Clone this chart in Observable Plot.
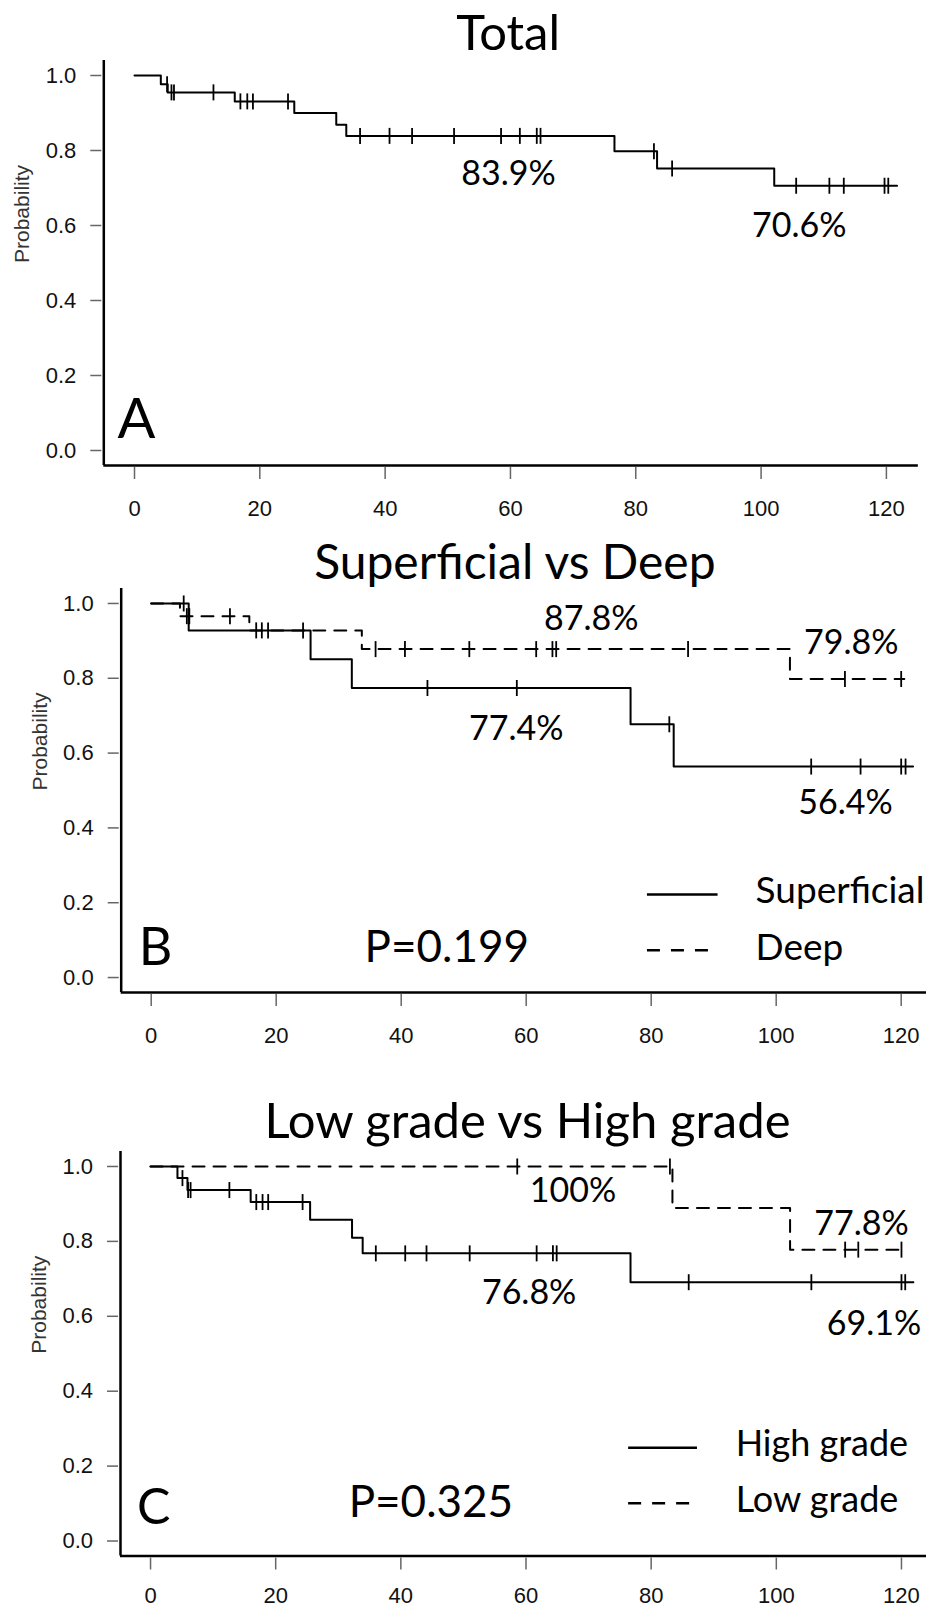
<!DOCTYPE html>
<html>
<head>
<meta charset="utf-8">
<script src="https://cdn.jsdelivr.net/npm/d3@7"></script>
<script src="https://cdn.jsdelivr.net/npm/@observablehq/plot@0.6"></script>
<style>
  html, body { margin: 0; padding: 0; background: #fff; overflow: hidden; }
  #chart svg { display: block; }
</style>
</head>
<body>
<div id="chart"></div>
<script>
// ---------------- data ----------------
const monthTicks = [0, 20, 40, 60, 80, 100, 120];
const probTicks = [0, 0.2, 0.4, 0.6, 0.8, 1.0];

// Panel A – Total
const totalEventTimes = [0, 4.2, 5.3, 16.0, 25.5, 32.2, 33.8, 76.6, 83.4, 102.1];
const totalSurvival   = [1, 0.977, 0.955, 0.931, 0.900, 0.869, 0.839, 0.798, 0.752, 0.706];
const totalEnd = 121.7;
const totalCensored = [5.2, 5.9, 6.3, 12.6, 16.9, 18.0, 18.9, 24.5, 36.0, 40.7, 44.3, 51.0, 58.5, 61.5, 64.2, 64.8, 82.9, 85.8, 105.6, 110.9, 113.2, 119.7, 120.3];
const totalLabels = ["83.9%", "70.6%"];

// Panel B – Superficial vs Deep
const superficialTimes    = [0, 6.0, 25.5, 32.1, 76.7, 83.6];
const superficialSurvival = [1, 0.928, 0.851, 0.774, 0.677, 0.564];
const superficialEnd = 121.9;
const superficialCensored = [5.2, 16.8, 17.7, 18.7, 24.3, 44.2, 58.5, 82.9, 105.6, 113.5, 120.0, 120.7];
const deepTimes    = [0, 4.6, 15.7, 33.7, 102.2];
const deepSurvival = [1, 0.966, 0.928, 0.878, 0.798];
const deepEnd = 120.5;
const deepCensored = [5.7, 6.1, 12.6, 35.9, 40.6, 50.9, 61.6, 64.2, 64.8, 85.9, 111.0, 120.0];
const depthLabels = ["87.8%", "79.8%", "77.4%", "56.4%"];
const depthLegend = ["Superficial", "Deep"];
const depthP = "P=0.199";

// Panel C – Low grade vs High grade
const highTimes    = [0, 4.3, 5.9, 16.0, 25.5, 32.2, 33.9, 76.7];
const highSurvival = [1, 0.969, 0.937, 0.905, 0.858, 0.810, 0.768, 0.691];
const highEnd = 121.9;
const highCensored = [5.1, 6.0, 6.4, 12.6, 16.9, 17.9, 18.8, 24.3, 36.0, 40.7, 44.1, 51.0, 61.7, 64.3, 64.9, 86.0, 105.6, 120.0, 120.6];
const lowTimes    = [0, 83.4, 102.2];
const lowSurvival = [1, 0.889, 0.778];
const lowEnd = 120.5;
const lowCensored = [58.6, 83.0, 111.0, 113.1, 120.0];
const gradeLabels = ["100%", "77.8%", "76.8%", "69.1%"];
const gradeLegend = ["High grade", "Low grade"];
const gradeP = "P=0.325";

// ---------------- helpers ----------------
const BIG = "Lato, 'Open Sans', sans-serif";
const SMALL = "'Liberation Sans', Arial, Helvetica, sans-serif";
const DASH = "12,9";

function steps(times, surv, end) {
  const pts = times.map((t, i) => ({t, s: surv[i]}));
  pts.push({t: end, s: surv[surv.length - 1]});
  return pts;
}
function survAt(times, surv, t) {
  let s = surv[0];
  for (let i = 0; i < times.length; i++) if (times[i] <= t) s = surv[i];
  return s;
}
function censors(times, surv, cens) {
  return cens.map(t => ({t, s: survAt(times, surv, t)}));
}
const censorSymbol = {
  draw(context) { context.moveTo(0, -8); context.lineTo(0, 8); }
};

function panel(cfg) {
  const marks = [];
  // axis lines (L-shaped frame)
  marks.push(Plot.ruleX([cfg.xDomain[0]], {stroke: "black", strokeWidth: 2.5}));
  marks.push(Plot.ruleY([-0.04], {x1: cfg.xDomain[0], x2: cfg.xEnd, stroke: "black", strokeWidth: 2.5}));
  marks.push(Plot.axisX(monthTicks, {
    tickSize: 12, dy: 2, tickPadding: cfg.xPad, stroke: "#666", strokeWidth: 1.5,
    fill: "#111", fontSize: 22, fontFamily: SMALL, label: null
  }));
  marks.push(Plot.axisY(probTicks, {
    tickSize: 11, dx: -2, tickPadding: 14.5, stroke: "#666", strokeWidth: 1.5,
    fill: "#111", fontSize: 22, fontFamily: SMALL, label: null,
    tickFormat: d => d.toFixed(1)
  }));
  marks.push(Plot.text(["Probability"], {
    frameAnchor: "left", rotate: -90, dx: cfg.probX - cfg.marginLeft,
    fontSize: 21, fontFamily: SMALL, fill: "#333"
  }));
  // title
  marks.push(Plot.text([cfg.title], {
    frameAnchor: "top", dx: cfg.titleDx, dy: cfg.titleDy, lineAnchor: "middle",
    fontSize: cfg.titleSize, fontFamily: BIG, fill: "black"
  }));
  // curves
  for (const s of cfg.series) {
    marks.push(Plot.line(steps(s.times, s.surv, s.end), {
      x: "t", y: "s", curve: "step-after", stroke: "black", strokeWidth: 2,
      strokeDasharray: s.dashed ? DASH : null
    }));
    marks.push(Plot.dot(censors(s.times, s.surv, s.cens), {
      x: "t", y: "s", symbol: censorSymbol, r: 1, fill: "none",
      stroke: "black", strokeWidth: 1.8
    }));
  }
  // annotations
  marks.push(Plot.text(cfg.notes, {
    x: "x", y: "y", text: "text", fontSize: d => d.size, fontFamily: BIG,
    fill: "black", textAnchor: "middle", lineAnchor: "middle"
  }));
  if (cfg.legend) {
    const L = cfg.legend;
    marks.push(Plot.ruleY([L.rows[0]], {y: "y", x1: L.x1, x2: L.x2, stroke: "black", strokeWidth: 2.5}));
    marks.push(Plot.ruleY([L.rows[1]], {y: "y", x1: L.x1, x2: L.x2, stroke: "black", strokeWidth: 2.5, strokeDasharray: "13,11"}));
    marks.push(Plot.text(L.rows, {
      x: L.tx, y: "ty", text: "text", textAnchor: "start", lineAnchor: "middle",
      fontSize: L.size, fontFamily: BIG, fill: "black"
    }));
  }
  return Plot.plot({
    width: 926, height: cfg.height,
    marginLeft: cfg.marginLeft, marginRight: 0,
    marginTop: cfg.marginTop, marginBottom: cfg.marginBottom,
    x: {domain: cfg.xDomain, label: null},
    y: {domain: [-0.04, 1.04], label: null},
    style: {background: "white", overflow: "visible", fontFamily: SMALL},
    marks
  });
}

const chart = document.getElementById("chart");

chart.append(panel({
  title: "Total", titleDx: -7, titleDy: -26, titleSize: 49,
  height: 540, marginTop: 60, marginBottom: 75, marginLeft: 103.3,
  xDomain: [-4.9, 126.4], xEnd: 125.1, xPad: 21, probX: 22,
  series: [{times: totalEventTimes, surv: totalSurvival, end: totalEnd, cens: totalCensored}],
  notes: [
    {x: 59.7, y: 0.736, text: totalLabels[0], size: 34},
    {x: 106.1, y: 0.598, text: totalLabels[1], size: 34},
    {x: 0.3, y: 0.08, text: "A", size: 56}
  ]
}));

chart.append(panel({
  title: "Superficial vs Deep", titleDx: -9, titleDy: -25, titleSize: 48,
  height: 550, marginTop: 48, marginBottom: 98, marginLeft: 120.7,
  xDomain: [-4.8, 124.05], xEnd: 124.05, xPad: 21, probX: 40,
  series: [
    {times: superficialTimes, surv: superficialSurvival, end: superficialEnd, cens: superficialCensored},
    {times: deepTimes, surv: deepSurvival, end: deepEnd, cens: deepCensored, dashed: true}
  ],
  notes: [
    {x: 70.4, y: 0.958, text: depthLabels[0], size: 34},
    {x: 112.0, y: 0.894, text: depthLabels[1], size: 34},
    {x: 58.4, y: 0.664, text: depthLabels[2], size: 34},
    {x: 111.1, y: 0.465, text: depthLabels[3], size: 34},
    {x: 47.3, y: 0.078, text: depthP, size: 44},
    {x: 0.7, y: 0.078, text: "B", size: 52}
  ],
  legend: {
    x1: 79.4, x2: 90.7, tx: 96.7, size: 37,
    rows: [
      {y: 0.222, ty: 0.231, text: depthLegend[0]},
      {y: 0.073, ty: 0.078, text: depthLegend[1]}
    ]
  }
}));

chart.append(panel({
  title: "Low grade vs High grade", titleDx: 4, titleDy: -29, titleSize: 49,
  height: 518, marginTop: 61, marginBottom: 52.5, marginLeft: 120,
  xDomain: [-4.8, 124.0], xEnd: 124.0, xPad: 17, probX: 39,
  series: [
    {times: highTimes, surv: highSurvival, end: highEnd, cens: highCensored},
    {times: lowTimes, surv: lowSurvival, end: lowEnd, cens: lowCensored, dashed: true}
  ],
  notes: [
    {x: 67.5, y: 0.935, text: gradeLabels[0], size: 34},
    {x: 113.6, y: 0.845, text: gradeLabels[1], size: 34},
    {x: 60.5, y: 0.663, text: gradeLabels[2], size: 34},
    {x: 115.6, y: 0.580, text: gradeLabels[3], size: 34},
    {x: 44.8, y: 0.103, text: gradeP, size: 44},
    {x: 0.5, y: 0.087, text: "C", size: 50}
  ],
  legend: {
    x1: 76.4, x2: 87.4, tx: 93.5, size: 36,
    rows: [
      {y: 0.249, ty: 0.258, text: gradeLegend[0]},
      {y: 0.101, ty: 0.109, text: gradeLegend[1]}
    ]
  }
}));
</script>
</body>
</html>
